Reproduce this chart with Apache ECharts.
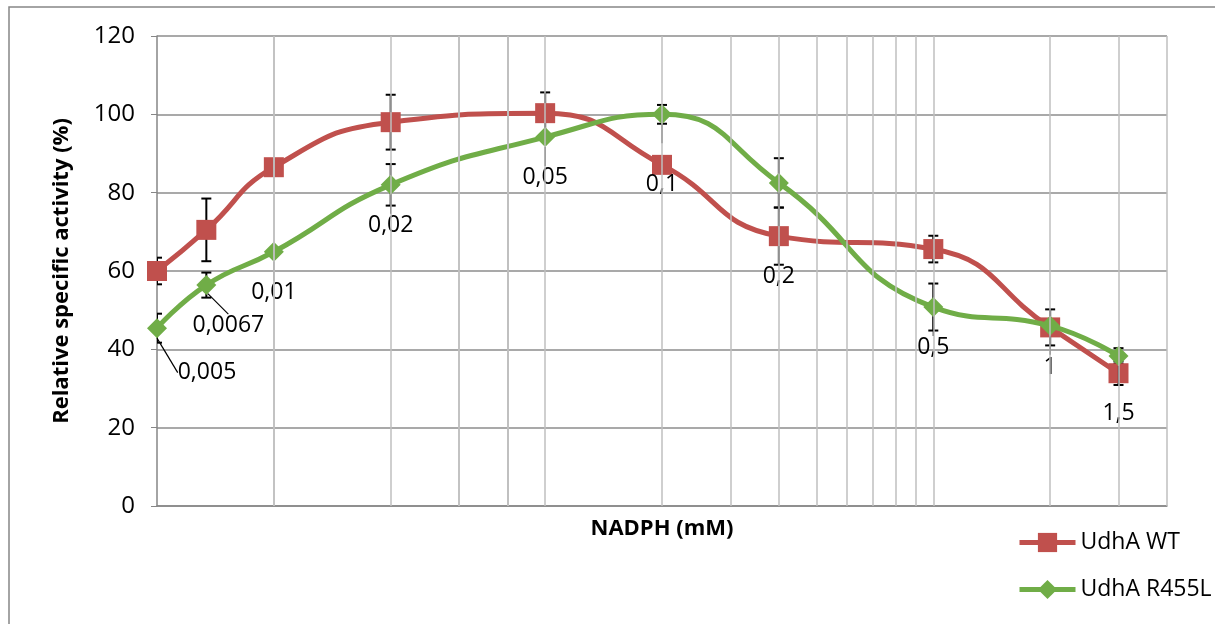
<!DOCTYPE html>
<html>
<head>
<meta charset="utf-8">
<script src="https://cdn.jsdelivr.net/npm/echarts@6/dist/echarts.min.js"></script>
<style>
  html, body { margin: 0; padding: 0; background: #fff; }
  #chart { width: 1215px; height: 624px; }
</style>
</head>
<body>
<div id="chart"></div>
<script>
// NADPH concentrations (mM)
var nadph = [0.005, 0.0067, 0.01, 0.02, 0.05, 0.1, 0.2, 0.5, 1, 1.5];
// relative specific activity (%)
var wt = [60.0, 70.5, 86.5, 98.0, 100.3, 87.1, 68.9, 65.6, 45.6, 33.9];
var wtErr = [3.4, 8.0, 0, 7.0, 5.3, 0, 7.3, 3.4, 4.6, 3.0];
var r455l = [45.4, 56.4, 64.9, 82.0, 94.2, 100.0, 82.5, 50.8, 46.0, 38.3];
var r455lErr = [3.7, 3.2, 0, 5.3, 0, 2.4, 6.3, 6.0, 0, 2.0];
// vertical grid lines of the log axis
var gridX = [0.01, 0.015, 0.02, 0.025, 0.03, 0.035, 0.04, 0.045, 0.05, 0.1,
  0.15, 0.2, 0.25, 0.3, 0.35, 0.4, 0.45, 0.5, 1, 1.5, 2];
var yTicks = [0, 20, 40, 60, 80, 100, 120];

var FONT = 'Open Sans';
var RED = '#C0504D';
var GREEN = '#70AD47';

// small hand nudges for the data labels
var labelNudge = { '0.005': [50, 4], '0.0067': [22, 0], '0.1': [0, -21] };

function pairs(xs, ys, es) {
  return xs.map(function (x, i) { return es ? [x, ys[i], es[i]] : [x, ys[i]]; });
}

function isLower(own, other, i, strict) {
  return strict ? own[i] < other[i] : own[i] <= other[i];
}

function errorBar(params, api) {
  var x = api.value(0), v = api.value(1), e = api.value(2);
  if (!e) return;
  var top = api.coord([x, v + e]);
  var bot = api.coord([x, v - e]);
  var cap = 5;
  var style = { stroke: '#000', lineWidth: 2 };
  return {
    type: 'group',
    children: [
      { type: 'line', shape: { x1: top[0], y1: top[1], x2: bot[0], y2: bot[1] }, style: style },
      { type: 'line', shape: { x1: top[0] - cap, y1: top[1], x2: top[0] + cap, y2: top[1] }, style: style },
      { type: 'line', shape: { x1: bot[0] - cap, y1: bot[1], x2: bot[0] + cap, y2: bot[1] }, style: style }
    ]
  };
}

var chart = echarts.init(document.getElementById('chart'));

chart.setOption({
  animation: false,
  textStyle: { fontFamily: FONT },
  graphic: [{
    type: 'rect',
    shape: { x: 9, y: 7, width: 1300, height: 700 },
    style: { fill: 'none', stroke: '#868686', lineWidth: 1.5 },
    silent: true,
    z: -1
  }],
  grid: { left: 157, right: 48, top: 36, bottom: 118 },
  xAxis: {
    type: 'log',
    logBase: 10,
    min: 0.005,
    max: 2,
    name: 'NADPH (mM)',
    nameLocation: 'middle',
    nameGap: 12,
    nameTextStyle: { fontFamily: FONT, fontSize: 22, fontWeight: 'bold', color: '#000' },
    axisLine: { show: true, lineStyle: { color: '#868686', width: 1.5 } },
    axisTick: { show: false },
    axisLabel: { show: false },
    splitLine: { show: false }
  },
  yAxis: {
    type: 'value',
    min: yTicks[0],
    max: yTicks[yTicks.length - 1],
    interval: 20,
    name: 'Relative specific activity (%)',
    nameLocation: 'middle',
    nameGap: 84,
    nameTextStyle: { fontFamily: FONT, fontSize: 22, fontWeight: 'bold', color: '#000' },
    axisLine: { show: true, lineStyle: { color: '#868686', width: 1.5 } },
    axisTick: { show: true, inside: false, length: 6, lineStyle: { color: '#868686' } },
    axisLabel: { fontFamily: FONT, fontSize: 24, color: '#000', margin: 22 },
    splitLine: { show: true, lineStyle: { color: '#8c8c8c', width: 1.5 } }
  },
  legend: {
    orient: 'vertical',
    left: 1012,
    top: 526,
    itemWidth: 56,
    itemHeight: 24,
    itemGap: 24,
    lineStyle: { width: 5 },
    textStyle: { fontFamily: FONT, fontSize: 23, color: '#000' },
    data: ['UdhA WT', 'UdhA R455L']
  },
  series: [
    {
      name: 'grid',
      type: 'line',
      data: [],
      silent: true,
      z: 1,
      markLine: {
        silent: true,
        symbol: 'none',
        label: { show: false },
        lineStyle: { color: '#bfbfbf', width: 1.5, type: 'solid' },
        data: gridX.map(function (v) { return { xAxis: v }; })
      }
    },
    {
      name: 'errWT',
      type: 'custom',
      renderItem: errorBar,
      clip: true,
      encode: { x: 0, y: 1 },
      data: pairs(nadph, wt, wtErr),
      z: 2
    },
    {
      name: 'errR455L',
      type: 'custom',
      renderItem: errorBar,
      clip: true,
      encode: { x: 0, y: 1 },
      data: pairs(nadph, r455l, r455lErr),
      z: 2
    },
    {
      name: 'UdhA WT',
      type: 'line',
      smooth: 0.5,
      data: pairs(nadph, wt),
      symbol: 'rect',
      symbolSize: 20,
      lineStyle: { color: RED, width: 5 },
      itemStyle: { color: RED },
      z: 3,
      label: {
        show: true,
        position: 'bottom',
        distance: 19,
        fontFamily: FONT,
        fontSize: 23,
        color: '#000',
        formatter: function (p) {
          return isLower(wt, r455l, p.dataIndex, true) ? String(nadph[p.dataIndex]).replace('.', ',') : '';
        }
      },
      labelLine: { show: false }
    },
    {
      name: 'UdhA R455L',
      type: 'line',
      smooth: 0.5,
      data: pairs(nadph, r455l),
      symbol: 'diamond',
      symbolSize: 20,
      lineStyle: { color: GREEN, width: 5 },
      itemStyle: { color: GREEN },
      z: 4,
      label: {
        show: true,
        position: 'bottom',
        distance: 19,
        fontFamily: FONT,
        fontSize: 23,
        color: '#000',
        formatter: function (p) {
          return isLower(r455l, wt, p.dataIndex, false) ? String(nadph[p.dataIndex]).replace('.', ',') : '';
        }
      },
      labelLine: { show: true, lineStyle: { color: '#000', width: 1.2 } }
    }
  ],
  labelLayout: function (params) {
    var nudge = labelNudge[String(nadph[params.dataIndex])];
    if (!nudge || !params.text) return {};
    return { dx: nudge[0], dy: nudge[1] };
  }
});
</script>
</body>
</html>
